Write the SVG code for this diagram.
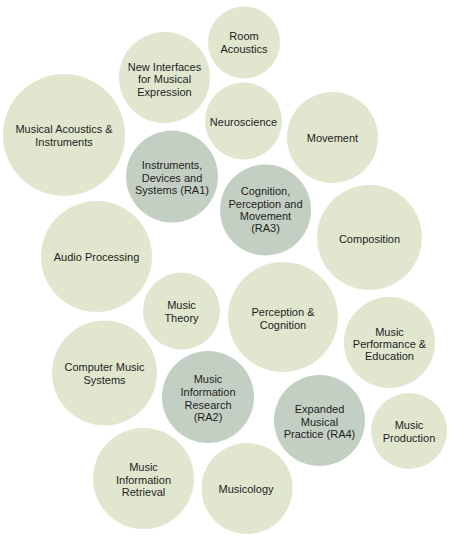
<svg xmlns="http://www.w3.org/2000/svg" width="450" height="542" viewBox="0 0 450 542">
<style>
.l{fill:#e1e6cf}
.d{fill:#c4cfc3}
text{font-family:"Liberation Sans",Arial,sans-serif;font-size:11px;fill:#1e1e1e;text-anchor:middle}
</style>
<rect width="450" height="542" fill="#ffffff"/>
<g id="connectors"/>
<g id="room-acoustics"><circle class="l" cx="244" cy="42.5" r="36"/><text x="244" y="40">Room</text><text x="244" y="52.5">Acoustics</text></g>
<g id="nime"><circle class="l" cx="164.5" cy="77.5" r="45.5"/><text x="164.5" y="71">New Interfaces</text><text x="164.5" y="83">for Musical</text><text x="164.5" y="95.5">Expression</text></g>
<g id="musical-acoustics"><circle class="l" cx="64" cy="135" r="61"/><text x="64" y="133">Musical Acoustics &amp;</text><text x="64" y="145.5">Instruments</text></g>
<g id="neuroscience"><circle class="l" cx="243.5" cy="121" r="38.5"/><text x="243.5" y="126">Neuroscience</text></g>
<g id="movement"><circle class="l" cx="332.5" cy="137.5" r="45.5"/><text x="332.5" y="142">Movement</text></g>
<g id="ra1"><circle class="d" cx="172" cy="176.5" r="46"/><text x="172" y="169">Instruments,</text><text x="172" y="181.5">Devices and</text><text x="172" y="194">Systems (RA1)</text></g>
<g id="ra3"><circle class="d" cx="265.5" cy="210" r="45.5"/><text x="265.5" y="195">Cognition,</text><text x="265.5" y="207.5">Perception and</text><text x="265.5" y="220">Movement</text><text x="265.5" y="232">(RA3)</text></g>
<g id="composition"><circle class="l" cx="369.5" cy="237.5" r="52.5"/><text x="369.5" y="243">Composition</text></g>
<g id="audio-processing"><circle class="l" cx="96.5" cy="256.5" r="55.5"/><text x="96.5" y="261">Audio Processing</text></g>
<g id="music-theory"><circle class="l" cx="181.5" cy="311" r="38.5"/><text x="181.5" y="309">Music</text><text x="181.5" y="321.5">Theory</text></g>
<g id="perception-cognition"><circle class="l" cx="283" cy="317" r="55"/><text x="283" y="316">Perception &amp;</text><text x="283" y="328.5">Cognition</text></g>
<g id="music-performance"><circle class="l" cx="389.5" cy="342.5" r="45.5"/><text x="389.5" y="336">Music</text><text x="389.5" y="348">Performance &amp;</text><text x="389.5" y="360">Education</text></g>
<g id="computer-music-systems"><circle class="l" cx="104.5" cy="373" r="52.5"/><text x="104.5" y="371">Computer Music</text><text x="104.5" y="384">Systems</text></g>
<g id="ra2"><circle class="d" cx="208" cy="397" r="46"/><text x="208" y="383">Music</text><text x="208" y="396">Information</text><text x="208" y="408.5">Research</text><text x="208" y="421">(RA2)</text></g>
<g id="ra4"><circle class="d" cx="319.5" cy="420.5" r="45.5"/><text x="319.5" y="413">Expanded</text><text x="319.5" y="425.5">Musical</text><text x="319.5" y="437.5">Practice (RA4)</text></g>
<g id="music-production"><circle class="l" cx="409" cy="431" r="38"/><text x="409" y="429">Music</text><text x="409" y="442">Production</text></g>
<g id="mir"><circle class="l" cx="143.5" cy="478.5" r="50.5"/><text x="143.5" y="471">Music</text><text x="143.5" y="483.5">Information</text><text x="143.5" y="496">Retrieval</text></g>
<g id="musicology"><circle class="l" cx="247" cy="488.5" r="45.5"/><text x="246" y="493">Musicology</text></g>
</svg>
